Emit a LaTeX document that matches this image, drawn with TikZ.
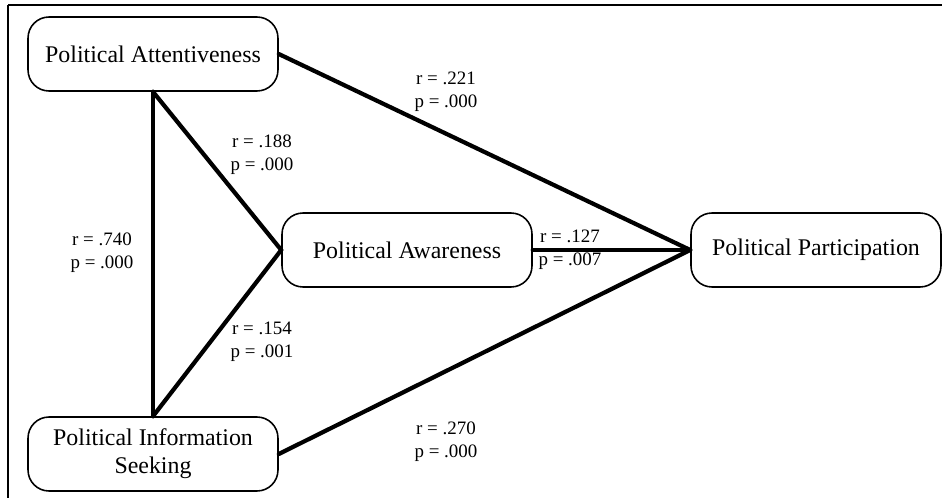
\documentclass[tikz,border=0pt]{standalone}
\usepackage{fontspec}
\setmainfont{Liberation Serif}
\begin{document}
\begin{tikzpicture}[x=0.02cm,y=-0.02cm,
  box/.style={draw=black,line width=0.9pt,rounded corners=0.42cm,minimum width=5cm,minimum height=1.48cm,inner sep=0pt,align=center,font=\fontsize{13.6}{16}\selectfont},
  lab/.style={inner sep=0pt,align=center,font=\fontsize{10.8}{13.2}\selectfont},
  edge/.style={line width=2.4pt,line cap=round}]
\useasboundingbox (0,0) rectangle (942,497);
\draw[line width=1.1pt] (8,5) -- (960,5);
\draw[line width=1.1pt] (8,5) -- (8,520);
\node[box] (att) at (153,54) {Political Attentiveness};
\node[box] (seek) at (153,454) {Political Information\\Seeking};
\node[box] (aw) at (407,250) {Political Awareness};
\node[box] (part) at (816,250) {Political Participation};
\draw[edge] (att.south) -- (seek.north);
\draw[edge] (att.south) -- (aw.west);
\draw[edge] (seek.north) -- (aw.west);
\draw[edge] (att.east) -- (part.west);
\draw[edge] (aw.east) -- (part.west);
\draw[edge] (seek.east) -- (part.west);
\node[lab] (l1) at (446,92) {r = .221\\p = .000};
\node[lab] (l2) at (262,155) {r = .188\\p = .000};
\node[lab] (l3) at (102,253) {r = .740\\p = .000};
\node[lab] (l4) at (570,250) {r = .127\\p = .007};
\node[lab] (l5) at (262,342) {r = .154\\p = .001};
\node[lab] (l6) at (446,442) {r = .270\\p = .000};
\end{tikzpicture}
\end{document}
